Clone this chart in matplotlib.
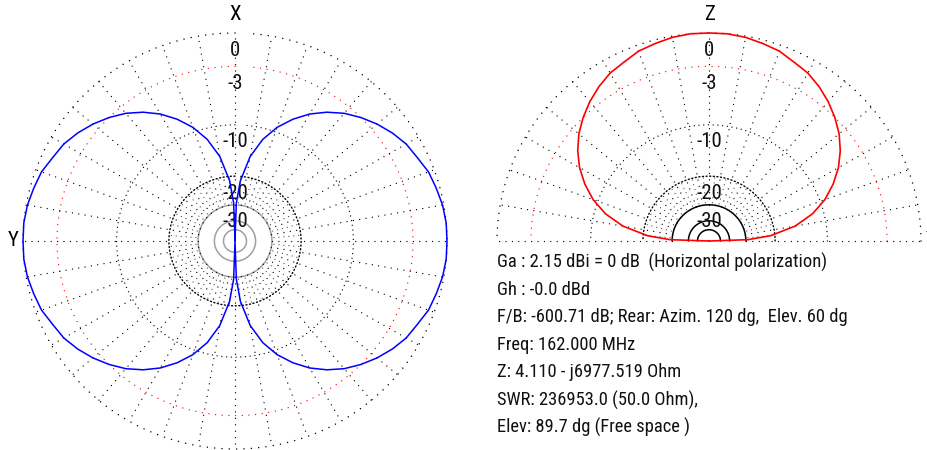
import numpy as np
import matplotlib
matplotlib.use("Agg")
import matplotlib.pyplot as plt
from matplotlib import font_manager

# Horizontal pattern (azimuth, deg) and vertical pattern (elevation, deg), gain in dB
azimuth_deg = [0, 2, 5, 10, 15, 20, 25, 30, 35, 40, 45, 50, 55, 60, 65, 70, 75, 80, 85,
               90, 95, 100, 105, 110, 115, 120, 125, 130, 135, 140, 145, 150, 155, 160,
               165, 170, 175, 178, 180, 182, 185, 190, 195, 200, 205, 210, 215, 220, 225,
               230, 235, 240, 245, 250, 255, 260, 265, 270, 275, 280, 285, 290, 295, 300,
               305, 310, 315, 320, 325, 330, 335, 340, 345, 350, 355, 358, 360]
azimuth_gain = [-99.0, -29.1, -21.2, -15.2, -11.7, -9.3, -7.5, -6.0, -4.8, -3.8, -3.0, -2.3,
                -1.7, -1.2, -0.9, -0.5, -0.3, -0.1, 0.0,
                0.0, 0.0, -0.1, -0.3, -0.5, -0.9, -1.2, -1.7, -2.3, -3.0, -3.8, -4.8, -6.0,
                -7.5, -9.3, -11.7, -15.2, -21.2, -29.1, -99.0, -29.1, -21.2, -15.2, -11.7,
                -9.3, -7.5, -6.0, -4.8, -3.8, -3.0, -2.3, -1.7, -1.2, -0.9, -0.5, -0.3, -0.1,
                0.0, 0.0, 0.0, -0.1, -0.3, -0.5, -0.9, -1.2, -1.7, -2.3, -3.0, -3.8, -4.8,
                -6.0, -7.5, -9.3, -11.7, -15.2, -21.2, -29.1, -99.0]

elevation_deg = [0, 2, 5, 10, 15, 20, 25, 30, 35, 40, 45, 50, 55, 60, 65, 70, 75, 80, 85,
                 90, 95, 100, 105, 110, 115, 120, 125, 130, 135, 140, 145, 150, 155, 160,
                 165, 170, 175, 178, 180]
elevation_gain = [-99.0, -29.1, -21.2, -15.2, -11.7, -9.3, -7.5, -6.0, -4.8, -3.8, -3.0,
                  -2.3, -1.7, -1.2, -0.9, -0.5, -0.3, -0.1, 0.0,
                  0.0, 0.0, -0.1, -0.3, -0.5, -0.9, -1.2, -1.7, -2.3, -3.0, -3.8, -4.8,
                  -6.0, -7.5, -9.3, -11.7, -15.2, -21.2, -29.1, -99.0]

ring_labels = ["0", "-3", "-10", "-20", "-30"]
ring_levels = [0, -3, -10, -20, -30]
inner_levels = [-30, -40, -50]

info_lines = [
    "Ga : 2.15 dBi = 0 dB  (Horizontal polarization)",
    "Gh : -0.0 dBd",
    "F/B: -600.71 dB; Rear: Azim. 120 dg,  Elev. 60 dg",
    "Freq: 162.000 MHz",
    "Z: 4.110 - j6977.519 Ohm",
    "SWR: 236953.0 (50.0 Ohm),",
    "Elev: 89.7 dg (Free space )",
]

# prefer a narrow sans if one is around
names = {f.name for f in font_manager.fontManager.ttflist}
FONT = "Liberation Sans"
for cand in ["Liberation Sans Narrow", "Arial Narrow", "Roboto Condensed",
             "Open Sans Condensed", "Noto Sans Condensed"]:
    if cand in names:
        FONT = cand
        break

FLOOR_DB = -200.0


def db_to_rho(db):
    return 0.89 ** (-np.asarray(db, dtype=float) / 2.0)


def rho_to_db(rho):
    rho = np.clip(np.asarray(rho, dtype=float), 1e-300, None)
    return -2.0 * np.log(rho) / np.log(0.89)


def setup_axes(rect, zero_loc):
    ax = fig.add_axes(rect, projection="polar")
    ax.set_aspect("auto")
    ax.set_theta_zero_location(zero_loc)
    ax.set_rscale("function", functions=(db_to_rho, rho_to_db))
    ax.set_rlim(FLOOR_DB, 0)
    ax.grid(False)
    ax.set_xticks([])
    ax.set_yticks([])
    for sp in ax.spines.values():
        sp.set_visible(False)
    ax.patch.set_alpha(0)
    return ax


def dots(gap):
    return (0, (0.01, gap))


def draw_grid(ax, t0, t1, inner_color):
    th = np.radians(np.linspace(t0, t1, 721))
    kw = dict(solid_capstyle="round", dash_capstyle="round", clip_on=False)
    ax.plot(th, np.full_like(th, 0.0), color="black", lw=1.1, ls=dots(4.8), **kw)
    ax.plot(th, np.full_like(th, -3.0), color="red", lw=1.0, ls=dots(4.8), **kw)
    ax.plot(th, np.full_like(th, -10.0), color="black", lw=1.0, ls=dots(3.4), **kw)
    ax.plot(th, np.full_like(th, -20.0), color="black", lw=1.0, ls=(0, (0.8, 1.8)), **kw)
    for lv in inner_levels:
        ax.plot(th, np.full_like(th, lv), color=inner_color, lw=1.1, **kw)
    # spokes every 10 deg out to 0 dB, extra ones every 5 deg in the inner band
    for a in np.arange(t0, t1 + 0.1, 5):
        if a % 10 == 0:
            ax.plot(np.radians([a, a]), [-30, 0], color="black", lw=1.0,
                    ls=dots(4.6), **kw)
        else:
            ax.plot(np.radians([a, a]), [-29, -20], color="#222222", lw=0.85,
                    ls=dots(4.2), **kw)


def ring_text(ax, theta_top):
    for lbl, lv in zip(ring_labels, ring_levels):
        ax.annotate(lbl, xy=(np.radians(theta_top), lv), xytext=(0, -17),
                    textcoords="offset pixels", ha="center", va="center",
                    fontsize=15, family=FONT, color="#111111", zorder=2,
                    annotation_clip=False)


fig = plt.figure(figsize=(9.27, 4.5), dpi=100)
fig.patch.set_facecolor("white")

W, H = 927.0, 450.0
ax_h = setup_axes([23 / W, 1 / H, 424 / W, 416 / H], "N")
ax_v = setup_axes([497 / W, 1 / H, 424 / W, 416 / H], "E")

# Azimuth plot
draw_grid(ax_h, 0, 355, "#a0a0a0")
ring_text(ax_h, 0)
ax_h.plot(np.radians(azimuth_deg), azimuth_gain, color="#0000ff", lw=1.1,
          zorder=5, clip_on=False)
ax_h.annotate("X", xy=(0, 0), xytext=(0, 18), textcoords="offset pixels",
              ha="center", va="center", fontsize=15, family=FONT, annotation_clip=False)
ax_h.annotate("Y", xy=(np.radians(90), 0), xytext=(-10, 0), textcoords="offset pixels",
              ha="center", va="center", fontsize=15, family=FONT, annotation_clip=False)

# Elevation plot
draw_grid(ax_v, 0, 180, "black")
ring_text(ax_v, 90)
ax_v.plot(np.radians(elevation_deg), elevation_gain, color="#ff0000", lw=1.2,
          zorder=5, clip_on=False)
ax_v.annotate("Z", xy=(np.radians(90), 0), xytext=(0, 18), textcoords="offset pixels",
              ha="center", va="center", fontsize=15, family=FONT, annotation_clip=False)
ax_v.annotate("Y", xy=(0, 0), xytext=(10, 0), textcoords="offset pixels",
              ha="center", va="center", fontsize=15, family=FONT, annotation_clip=False)

# Summary text, sized so the first line spans about 330 px
texts = [fig.text(497 / W, 1 - (262 + i * 27.6) / H, line, ha="left", va="center",
                  fontsize=13.4, family=FONT, color="#111111")
         for i, line in enumerate(info_lines)]
renderer = fig.canvas.get_renderer()
width = texts[0].get_window_extent(renderer).width
size = min(13.4, 13.4 * 330.0 / width)
for t in texts:
    t.set_fontsize(size)

fig.savefig("out.png", dpi=100, facecolor="white")
